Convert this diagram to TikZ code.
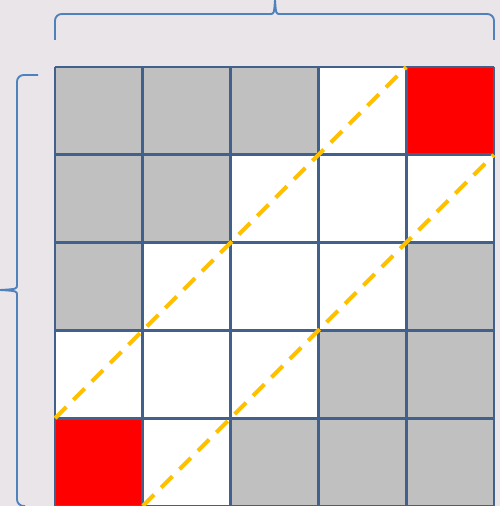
\documentclass[tikz,border=0pt]{standalone}
\usepackage{tikz}
\definecolor{bgpink}{RGB}{233,229,233}
\definecolor{cellgray}{RGB}{192,192,192}
\definecolor{gridblue}{RGB}{65,96,140}
\definecolor{bracblue}{RGB}{79,129,189}
\definecolor{diagorange}{RGB}{255,192,0}
\tikzset{
  gridline/.style={draw=gridblue, line width=2.2pt},
  brace/.style={draw=bracblue, line width=1.4pt, rounded corners=5},
  diagline/.style={diagorange, line width=3pt, dash pattern=on 12pt off 7.5pt},
}
\begin{document}
\begin{tikzpicture}[x=0.75pt, y=-0.75pt]
  % background
  \fill[bgpink] (0,0) rectangle (500,506);
  \useasboundingbox (0,0) rectangle (500,506);
  % cells: column/row, filled colour
  \foreach \c/\r/\col in {1/1/cellgray, 2/1/cellgray, 3/1/cellgray, 4/1/white, 5/1/red,
                          1/2/cellgray, 2/2/cellgray, 3/2/white, 4/2/white, 5/2/white,
                          1/3/cellgray, 2/3/white, 3/3/white, 4/3/white, 5/3/cellgray,
                          1/4/white, 2/4/white, 3/4/white, 4/4/cellgray, 5/4/cellgray,
                          1/5/red, 2/5/white, 3/5/cellgray, 4/5/cellgray, 5/5/cellgray}
    \fill[\col] ({55+87.8*(\c-1)},{67+87.8*(\r-1)}) rectangle ++(87.8,87.8);
  % grid
  \foreach \i in {0,...,5} {
    \draw[gridline] ({55+87.8*\i},67) -- ({55+87.8*\i},506);
    \draw[gridline] (55,{67+87.8*\i}) -- (494,{67+87.8*\i});
  }
  % diagonals
  \draw[diagline] (55,418.2) -- (406.2,67);
  \draw[diagline] (142.8,506) -- (494,154.8);
  % top brace
  \draw[brace] (55,40) -- (55,14) -- (270,14);
  \draw[brace] (494,40) -- (494,14) -- (280,14);
  \draw[bracblue, line width=1.4pt] (270,14) .. controls (274,14) .. (275,0)
                                     .. controls (276,14) .. (280,14);
  % left brace
  \draw[brace] (38,75) -- (17,75) -- (17,285);
  \draw[brace] (25,506) -- (17,506) -- (17,295);
  \draw[bracblue, line width=1.4pt] (17,285) .. controls (17,289) .. (0,290)
                                     .. controls (17,291) .. (17,295);
\end{tikzpicture}
\end{document}
